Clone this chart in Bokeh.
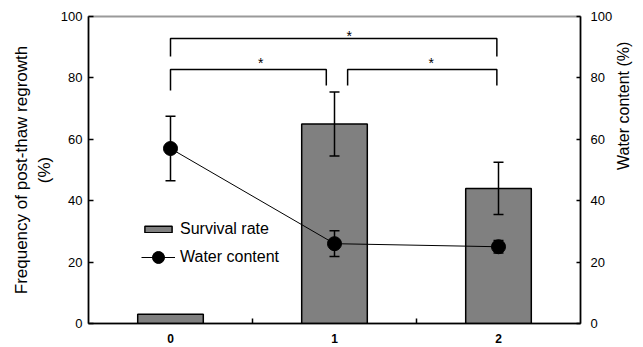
import math
from bokeh.plotting import figure
from bokeh.models import (ColumnDataSource, Range1d, LinearAxis, FixedTicker,
                          Whisker, TeeHead, Legend, LegendItem, Label)
from bokeh.core.properties import value
from bokeh.embed import file_html
from bokeh.resources import INLINE

# ---- data -----------------------------------------------------------------
categories = [0, 1, 2]
x_labels = ["0", "1", "2"]
survival = [3, 65, 44]            # frequency of post-thaw regrowth (%)
survival_err = [0, 10.4, 8.5]
water = [57, 26, 25]              # water content (%)
water_err = [10.5, 4.2, 2.0]
y_ticks = [0, 20, 40, 60, 80, 100]

# significance brackets (group a -> group b)
br_x0 = [0.0, 0.0, 1.08]
br_x1 = [1.99, 0.95, 1.99]
br_top = [92.8, 82.7, 82.7]
br_left_foot = [87.0, 75.9, 77.5]
br_right_foot = [87.0, 77.5, 77.5]
star_x = [1.09, 0.55, 1.59]
star_y = [93.6, 84.9, 84.9]
star_text = ["*", "*", "*"]

FONT = "Liberation Sans"

# ---- figure ---------------------------------------------------------------
p = figure(width=643, height=347, x_range=Range1d(-0.5, 2.5),
           y_range=Range1d(0, 100), output_backend="svg",
           toolbar_location=None, min_border_left=88, min_border_right=61,
           min_border_top=16, min_border_bottom=24)
p.extra_y_ranges = {"water": Range1d(0, 100)}
p.grid.visible = False
p.background_fill_color = "white"
p.border_fill_color = "white"
p.outline_line_color = "#9a9a9a"
p.outline_line_width = 2

# bars
bar_src = ColumnDataSource(dict(x=categories, top=survival))
bars = p.vbar(x="x", top="top", width=0.4, source=bar_src,
              fill_color="#808080", line_color="black", line_width=1.5)

bx = [c for c, e in zip(categories, survival_err) if e > 0]
bu = [v + e for v, e in zip(survival, survival_err) if e > 0]
bl = [v - e for v, e in zip(survival, survival_err) if e > 0]
bar_err_src = ColumnDataSource(dict(x=bx, upper=bu, lower=bl))
p.add_layout(Whisker(source=bar_err_src, base="x", upper="upper", lower="lower",
                     line_color="black", line_width=1.5, level="annotation",
                     upper_head=TeeHead(size=10, line_color="black", line_width=1.5),
                     lower_head=TeeHead(size=10, line_color="black", line_width=1.5)))

# water content
w_src = ColumnDataSource(dict(x=categories, y=water,
                              upper=[v + e for v, e in zip(water, water_err)],
                              lower=[v - e for v, e in zip(water, water_err)]))
wline = p.line(x="x", y="y", source=w_src, line_color="black", line_width=1,
               y_range_name="water")
p.add_layout(Whisker(source=w_src, base="x", upper="upper", lower="lower",
                     y_range_name="water",
                     line_color="black", line_width=1.5, level="annotation",
                     upper_head=TeeHead(size=10, line_color="black", line_width=1.5),
                     lower_head=TeeHead(size=10, line_color="black", line_width=1.5)))
wpts = p.scatter(x="x", y="y", source=w_src, marker="circle", size=14,
                 fill_color="black", line_color="black", y_range_name="water")

# significance brackets
br_xs = [[a, a, b, b] for a, b in zip(br_x0, br_x1)]
br_ys = [[lf, t, t, rf] for lf, t, rf in zip(br_left_foot, br_top, br_right_foot)]
p.multi_line(xs=br_xs, ys=br_ys, line_color="black", line_width=1.5)
p.text(x=star_x, y=star_y, text=star_text, text_font=value(FONT),
       text_font_size="14px", text_align="center", text_baseline="alphabetic",
       text_color="black")

# ---- axes -----------------------------------------------------------------
xa = p.xaxis[0]
xa.ticker = FixedTicker(ticks=categories, minor_ticks=[0.5, 1.5])
xa.major_label_overrides = {c: l for c, l in zip(categories, x_labels)}
xa.major_tick_in = 0
xa.major_tick_out = 0
xa.minor_tick_in = 5
xa.minor_tick_out = 0
xa.minor_tick_line_color = "black"
xa.minor_tick_line_width = 1.5
xa.axis_line_color = "black"
xa.axis_line_width = 1.5
xa.major_label_text_font = FONT
xa.major_label_text_font_size = "12px"
xa.major_label_text_font_style = "bold"
xa.major_label_text_color = "black"
xa.major_label_standoff = 10

ya = p.yaxis[0]
ya.ticker = FixedTicker(ticks=y_ticks)
ya.major_tick_in = 5
ya.major_tick_out = 0
ya.minor_tick_line_color = None
ya.axis_line_color = "black"
ya.axis_line_width = 1.5
ya.major_tick_line_color = "black"
ya.major_tick_line_width = 1.5
ya.major_label_text_font = FONT
ya.major_label_text_font_size = "13px"
ya.major_label_text_color = "black"
ya.major_label_standoff = 6
ya.axis_label = "Frequency of post-thaw regrowth\n(%)"
ya.axis_label_text_font = FONT
ya.axis_label_text_font_size = "17px"
ya.axis_label_text_font_style = "normal"
ya.axis_label_text_color = "black"
ya.axis_label_standoff = 4

ra = LinearAxis(y_range_name="water", ticker=FixedTicker(ticks=y_ticks))
ra.major_tick_in = 4
ra.major_tick_out = 0
ra.minor_tick_line_color = None
ra.axis_line_color = "black"
ra.axis_line_width = 1.5
ra.major_tick_line_color = "black"
ra.major_tick_line_width = 1.5
ra.major_label_text_font = FONT
ra.major_label_text_font_size = "13px"
ra.major_label_text_color = "black"
ra.major_label_standoff = 10

try:
    ra.axis_label_orientation = math.pi / 2   # read bottom-to-top
    ra.axis_label = "Water content (%)"
    ra.axis_label_text_font = FONT
    ra.axis_label_text_font_size = "16px"
    ra.axis_label_text_font_style = "normal"
    ra.axis_label_text_color = "black"
    ra.axis_label_standoff = 8
except AttributeError:
    p.add_layout(Label(x=494 + 53, y=307 / 2, x_units="screen", y_units="screen",
                       text="Water content (%)", angle=math.pi / 2,
                       text_align="center", text_baseline="middle",
                       text_font=FONT, text_font_size="16px", text_color="black"))
p.add_layout(ra, "right")

# ---- legends --------------------------------------------------------------
common = dict(glyph_width=34, label_height=20, label_standoff=5, padding=0,
              margin=0, spacing=0, border_line_color=None,
              background_fill_alpha=0, label_text_font=FONT,
              label_text_font_size="16px", label_text_color="black")
leg1 = Legend(items=[LegendItem(label="Survival rate", renderers=[bars])],
              location=(53, 84), glyph_height=8, **common)
leg2 = Legend(items=[LegendItem(label="Water content", renderers=[wline, wpts])],
              location=(53, 51), glyph_height=30, **common)
p.add_layout(leg1, "center")
p.add_layout(leg2, "center")

open("out.html", "w").write(file_html(p, INLINE))
